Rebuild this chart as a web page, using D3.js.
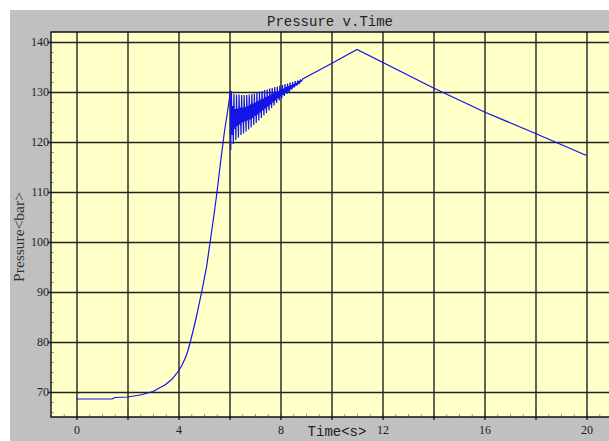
<!DOCTYPE html>
<html>
<head>
<meta charset="utf-8">
<script src="https://cdn.jsdelivr.net/npm/d3@7"></script>
<style>
  body { margin: 0; background: #fff; }
  svg { display: block; }
</style>
</head>
<body>
<svg id="chart"></svg>
<script>
// data
const riseTimes = [0, 1.4, 1.5, 2, 2.5, 3, 3.5, 3.75, 4, 4.12, 4.25, 4.36, 4.46, 4.58, 4.7, 4.8, 4.91, 5.0, 5.1, 5.24, 5.38, 5.51, 5.65, 5.8, 5.95, 6.04];
const risePressures = [68.6, 68.6, 68.9, 69.0, 69.4, 70.1, 71.5, 72.6, 74.2, 75.2, 76.6, 78.1, 80, 82.4, 85, 87.4, 90, 92.4, 95, 100, 105, 110, 116, 122, 127, 130.3];

// pump ripple: deep trough, high peak, inner trough, inner peak
const oscTimes = [
  6.05, 6.075, 6.10, 6.125, 6.15, 6.175, 6.20, 6.225, 6.25, 6.275, 6.30, 6.325,
  6.35, 6.375, 6.40, 6.425, 6.45, 6.475, 6.50, 6.525, 6.55, 6.575, 6.60, 6.625,
  6.65, 6.675, 6.70, 6.725, 6.75, 6.775, 6.80, 6.825, 6.85, 6.875, 6.90, 6.925,
  6.95, 6.975, 7.00, 7.025, 7.05, 7.075, 7.10, 7.125, 7.15, 7.175, 7.20, 7.225,
  7.25, 7.275, 7.30, 7.325, 7.35, 7.375, 7.40, 7.425, 7.45, 7.475, 7.50, 7.525,
  7.55, 7.575, 7.60, 7.625, 7.65, 7.675, 7.70, 7.725, 7.75, 7.775, 7.80, 7.825,
  7.85, 7.875, 7.90, 7.925, 7.95, 7.975, 8.00, 8.025, 8.05, 8.075, 8.10, 8.125,
  8.15, 8.175, 8.20, 8.225, 8.25, 8.275, 8.30, 8.325, 8.35, 8.375, 8.40, 8.425,
  8.45, 8.475, 8.50, 8.525, 8.55, 8.575, 8.60, 8.625, 8.65, 8.675, 8.70, 8.725,
  8.75, 8.775, 8.80, 8.825
];
const oscPressures = [
  118.4, 130.2, 121.4, 127.2, 119.6, 129.6, 122.6, 126.6, 120.4, 129.5, 123.2, 126.7,
  120.9, 129.5, 123.5, 126.9, 121.4, 129.4, 123.9, 126.9, 121.7, 129.4, 124.1, 127.0,
  122.1, 129.4, 124.3, 127.2, 122.5, 129.5, 124.5, 127.5, 122.9, 129.6, 124.8, 127.7,
  123.4, 129.7, 125.2, 127.9, 123.8, 129.9, 125.5, 128.2, 124.3, 130.1, 125.9, 128.5,
  124.8, 130.2, 126.3, 128.7, 125.3, 130.4, 126.7, 129.0, 125.8, 130.5, 127.1, 129.2,
  126.3, 130.7, 127.5, 129.5, 126.8, 130.8, 127.9, 129.7, 127.3, 131.0, 128.3, 130.0,
  127.8, 131.1, 128.7, 130.2, 128.3, 131.3, 129.1, 130.5, 128.7, 131.4, 129.4, 130.7,
  129.2, 131.6, 129.8, 131.0, 129.6, 131.7, 130.1, 131.2, 130.0, 131.9, 130.5, 131.4,
  130.5, 132.0, 130.9, 131.6, 130.9, 132.2, 131.3, 131.8, 131.3, 132.3, 131.6, 132.0,
  131.8, 132.5, 132.1, 132.2
];

const fallTimes = [8.87, 10, 11, 14, 16, 18, 20];
const fallPressures = [132.6, 135.7, 138.5, 130.8, 126.0, 121.7, 117.3];

const xGridTicks = [0, 2, 4, 6, 8, 10, 12, 14, 16, 18, 20];
const xLabelTicks = [0, 4, 8, 12, 16, 20];
const yTicks = [70, 80, 90, 100, 110, 120, 130, 140];

const width = 609;
const height = 441;
const plot = { left: 51, top: 32, right: 609, bottom: 417 };

const svg = d3.select('#chart')
  .attr('width', width)
  .attr('height', height);

// grey window frame
svg.append('rect')
  .attr('x', 10).attr('y', 10)
  .attr('width', width - 10).attr('height', height - 10)
  .attr('fill', '#c0c0c0');

const x = d3.scaleLinear().domain([-1, 21]).range([plot.left, plot.left + 22 * 25.5]);
const y = d3.scaleLinear().domain([65, 142]).range([plot.bottom, plot.top]);

const innerW = plot.right - plot.left;
const innerH = plot.bottom - plot.top;

svg.append('defs').append('clipPath').attr('id', 'clip')
  .append('rect')
  .attr('x', plot.left).attr('y', plot.top)
  .attr('width', innerW).attr('height', innerH);

svg.append('rect')
  .attr('x', plot.left).attr('y', plot.top)
  .attr('width', innerW).attr('height', innerH)
  .attr('fill', '#ffffc8');

// minor ticks, bottom (inside)
svg.append('g')
  .attr('transform', `translate(0, ${plot.bottom})`)
  .call(d3.axisBottom(x).tickValues(d3.range(-1, 21, 0.5)).tickSize(-3).tickFormat(''))
  .call(g => g.select('.domain').remove())
  .call(g => g.selectAll('line').attr('stroke', '#9a9a80'));

// minor ticks, left (inside)
svg.append('g')
  .attr('transform', `translate(${plot.left}, 0)`)
  .call(d3.axisLeft(y).tickValues(d3.range(66, 142, 2)).tickSize(-3).tickFormat(''))
  .call(g => g.select('.domain').remove())
  .call(g => g.selectAll('line').attr('stroke', '#9a9a80'));

// vertical grid
svg.append('g')
  .attr('transform', `translate(0, ${plot.bottom + 3})`)
  .call(d3.axisBottom(x).tickValues(xGridTicks).tickSize(-(innerH + 3)).tickFormat(''))
  .call(g => g.select('.domain').remove())
  .call(g => g.selectAll('line').attr('stroke', '#222').attr('stroke-width', 1.4));

// horizontal grid
svg.append('g')
  .attr('transform', `translate(${plot.left - 3}, 0)`)
  .call(d3.axisLeft(y).tickValues(yTicks).tickSize(-(innerW + 3)).tickFormat(''))
  .call(g => g.select('.domain').remove())
  .call(g => g.selectAll('line').attr('stroke', '#222').attr('stroke-width', 1.4));

// plot border (top, left, bottom)
svg.append('path')
  .attr('d', `M${plot.right},${plot.top}H${plot.left}V${plot.bottom}H${plot.right}`)
  .attr('fill', 'none')
  .attr('stroke', '#111')
  .attr('stroke-width', 1.4);

// tick labels
svg.append('g')
  .attr('transform', `translate(0, ${plot.bottom})`)
  .call(d3.axisBottom(x).tickValues(xLabelTicks).tickSize(0).tickPadding(8))
  .call(g => g.select('.domain').remove())
  .call(g => g.selectAll('text')
    .attr('font-family', 'Liberation Serif, serif')
    .attr('font-size', 12)
    .attr('fill', '#222'));

svg.append('g')
  .attr('transform', `translate(${plot.left}, 0)`)
  .call(d3.axisLeft(y).tickValues(yTicks).tickSize(0).tickPadding(2))
  .call(g => g.select('.domain').remove())
  .call(g => g.selectAll('text')
    .attr('font-family', 'Liberation Serif, serif')
    .attr('font-size', 12)
    .attr('fill', '#222'));

// pressure trace
const times = riseTimes.concat(oscTimes, fallTimes);
const pressures = risePressures.concat(oscPressures, fallPressures);
const data = times.map((t, i) => ({ t, p: pressures[i] }));

const line = d3.line()
  .x(d => x(d.t))
  .y(d => y(d.p));

svg.append('path')
  .datum(data)
  .attr('clip-path', 'url(#clip)')
  .attr('d', line)
  .attr('fill', 'none')
  .attr('stroke', '#1414e6')
  .attr('stroke-width', 1.2);

// titles
svg.append('text')
  .attr('x', 330).attr('y', 26)
  .attr('text-anchor', 'middle')
  .attr('font-family', 'Liberation Mono, monospace')
  .attr('font-size', 14)
  .attr('fill', '#222')
  .text('Pressure v.Time');

svg.append('text')
  .attr('x', 337).attr('y', 436)
  .attr('text-anchor', 'middle')
  .attr('font-family', 'Liberation Mono, monospace')
  .attr('font-size', 14)
  .attr('fill', '#222')
  .text('Time<s>');

svg.append('text')
  .attr('transform', 'translate(24, 237) rotate(-90)')
  .attr('text-anchor', 'middle')
  .attr('font-family', 'Liberation Serif, serif')
  .attr('font-size', 15.5)
  .attr('fill', '#333')
  .text('Pressure<bar>');
</script>
</body>
</html>
